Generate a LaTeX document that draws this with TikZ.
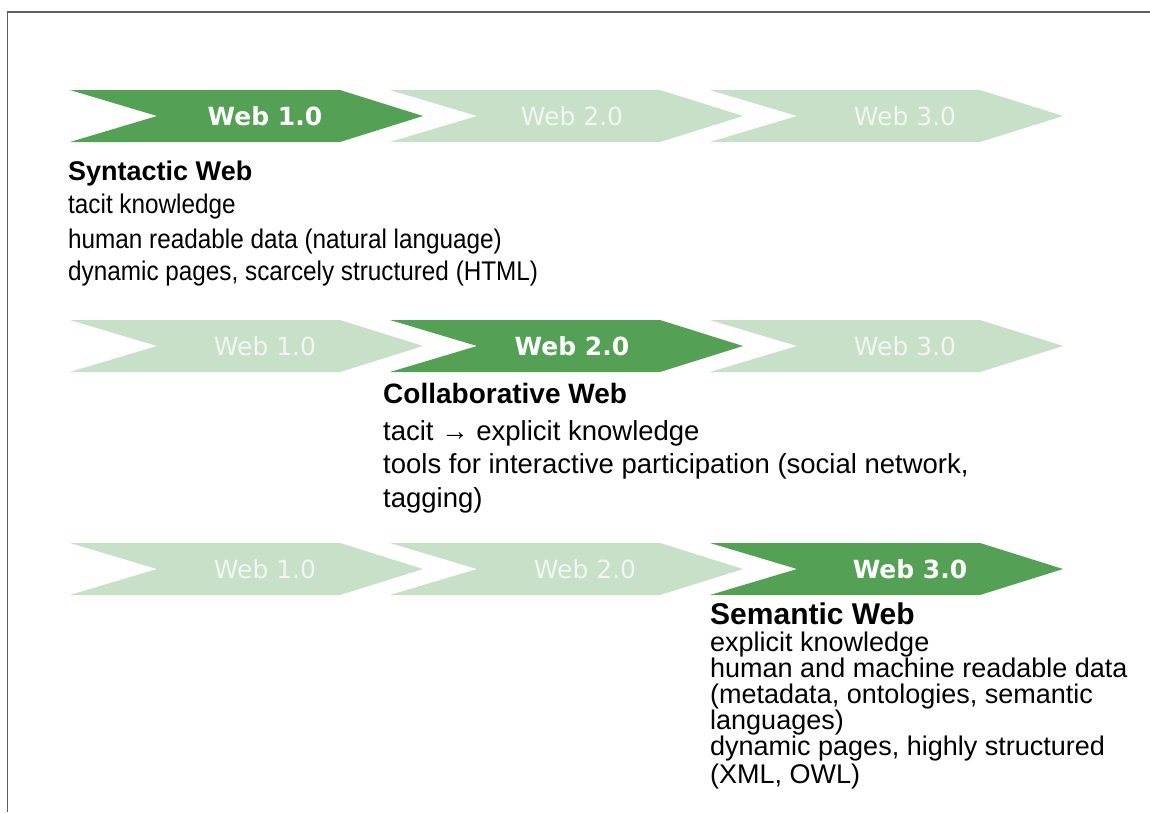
\documentclass[tikz,border=0pt]{standalone}
\usepackage{fontspec}
\setmainfont{Liberation Sans}
\newfontfamily\verdana{DejaVu Sans}
\newfontfamily\condensed[FakeStretch=0.9]{Liberation Sans}
\definecolor{darkg}{RGB}{84,160,84}
\definecolor{lightg}{RGB}{199,224,199}
\definecolor{lighttext}{RGB}{240,246,240}
\definecolor{framegray}{RGB}{95,95,95}
\newcommand\chevshape[3]{%
  \fill[#1] (#2,#3) -- ++(270,0) -- ++(83,26) -- ++(-83,26) -- ++(-270,0) -- ++(87,-26) -- cycle;}
\tikzset{
  chevdark/.style={fill=darkg},
  chevlight/.style={fill=lightg},
  labdark/.style={text=white, inner sep=0pt, font=\verdana\bfseries\fontsize{25}{25}\selectfont},
  lablight/.style={text=lighttext, inner sep=0pt, font=\verdana\fontsize{25}{25}\selectfont},
  headA/.style={anchor=base west, inner sep=0pt, font=\bfseries\fontsize{27}{27}\selectfont},
  lineA/.style={anchor=base west, inner sep=0pt, font=\condensed\fontsize{27}{27}\selectfont},
  headB/.style={anchor=base west, inner sep=0pt, font=\bfseries\fontsize{28}{28}\selectfont},
  lineB/.style={anchor=base west, inner sep=0pt, font=\fontsize{27.5}{27.5}\selectfont},
  headC/.style={anchor=base west, inner sep=0pt, font=\bfseries\fontsize{30}{30}\selectfont},
  lineC/.style={anchor=base west, inner sep=0pt, font=\fontsize{27}{27}\selectfont},
}
\begin{document}
\begin{tikzpicture}[x=1pt,y=-1pt]
\useasboundingbox (0,0) rectangle (1150,812);
\fill[white] (0,0) rectangle (1150,812);
\draw[framegray, line width=1.5pt] (7.5,812) -- (7.5,12) -- (1150,12);

% row 1
\chevshape{chevdark}{70}{90}
\chevshape{chevlight}{390}{90}
\chevshape{chevlight}{710}{90}
\node[labdark]  (r1a) at (265,116) {Web 1.0};
\node[lablight] (r1b) at (572,116) {Web 2.0};
\node[lablight] (r1c) at (905,116) {Web 3.0};

% row 2
\chevshape{chevlight}{70}{320}
\chevshape{chevdark}{390}{320}
\chevshape{chevlight}{710}{320}
\node[lablight] (r2a) at (265,346) {Web 1.0};
\node[labdark]  (r2b) at (572,346) {Web 2.0};
\node[lablight] (r2c) at (905,346) {Web 3.0};

% row 3
\chevshape{chevlight}{70}{543}
\chevshape{chevlight}{390}{543}
\chevshape{chevdark}{710}{543}
\node[lablight] (r3a) at (265,569) {Web 1.0};
\node[lablight] (r3b) at (585,569) {Web 2.0};
\node[labdark]  (r3c) at (910,569) {Web 3.0};

% block 1
\node[headA] (a0) at (68,180) {Syntactic Web};
\node[lineA] (a1) at (68,213) {tacit knowledge};
\node[lineA] (a2) at (68,248) {human readable data (natural language)};
\node[lineA] (a3) at (68,280) {dynamic pages, scarcely structured (HTML)};

% block 2
\node[headB] (b0) at (383,403) {Collaborative Web};
\node[lineB] (b1) at (383,440) {tacit → explicit knowledge};
\node[lineB] (b2) at (383,473) {tools for interactive participation (social network,};
\node[lineB] (b3) at (383,507) {tagging)};

% block 3
\node[headC] (c0) at (710,624) {Semantic Web};
\node[lineC] (c1) at (710,651) {explicit knowledge};
\node[lineC] (c2) at (710,677) {human and machine readable data};
\node[lineC] (c3) at (710,703) {(metadata, ontologies, semantic};
\node[lineC] (c4) at (710,729) {languages)};
\node[lineC] (c5) at (710,755) {dynamic pages, highly structured};
\node[lineC] (c6) at (710,783) {(XML, OWL)};
\end{tikzpicture}
\end{document}
